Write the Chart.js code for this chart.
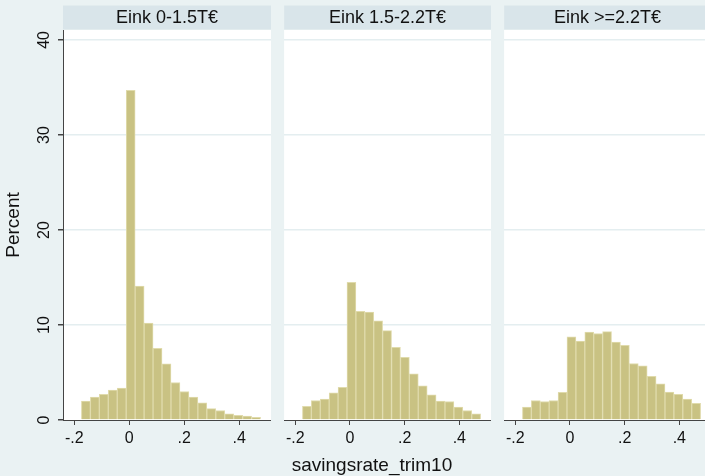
<!DOCTYPE html>
<html>
<head>
<meta charset="utf-8">
<script src="https://cdn.jsdelivr.net/npm/chart.js@4.4.1/dist/chart.umd.min.js"></script>
<style>
  html, body { margin: 0; padding: 0; background: #EAF2F3; overflow: hidden; width: 705px; height: 476px; }
  .panel { position: absolute; top: 0; height: 476px; }
  #xtitle {
    position: absolute; left: 372px; top: 454px; transform: translateX(-50%);
    font: 19px "Liberation Sans", Arial, sans-serif; color: #111; white-space: nowrap; line-height: 22px;
  }
</style>
</head>
<body>
<div class="panel" style="left:0;width:271px"><canvas id="c1" width="271" height="476"></canvas></div>
<div class="panel" style="left:282px;width:209px"><canvas id="c2" width="209" height="476"></canvas></div>
<div class="panel" style="left:502px;width:209px"><canvas id="c3" width="209" height="476"></canvas></div>
<div id="xtitle">savingsrate_trim10</div>
<script>
// Panel titles (income groups)
const panelTitles = ['Eink 0-1.5T€', 'Eink 1.5-2.2T€', 'Eink >=2.2T€'];

// Histogram bin centres (savingsrate_trim10)
const binCenters = [-0.1577, -0.1251, -0.0925, -0.0599, -0.0273, 0.0053, 0.0379, 0.0705, 0.1031, 0.1357,
                    0.1683, 0.2009, 0.2335, 0.2661, 0.2987, 0.3313, 0.3639, 0.3965, 0.4291, 0.4617];

// Percent per bin
const pctLow  = [2.0, 2.4, 2.7, 3.15, 3.35, 34.7, 14.1, 10.2, 7.55, 5.9, 3.95, 3.0, 2.4, 1.8, 1.2, 1.0, 0.65, 0.5, 0.4, 0.28];
const pctMid  = [1.45, 2.05, 2.2, 2.85, 3.45, 14.5, 11.45, 11.35, 10.45, 9.4, 7.65, 6.6, 4.85, 3.6, 2.65, 2.0, 1.95, 1.35, 1.0, 0.65];
const pctHigh = [1.35, 2.05, 1.95, 2.05, 2.9, 8.75, 8.3, 9.25, 9.1, 9.3, 8.2, 7.85, 5.95, 5.7, 4.6, 3.8, 2.95, 2.7, 2.2, 1.75];

// Axis ticks
const xTicks = [-0.2, 0, 0.2, 0.4];
const xTickLabels = ['-.2', '0', '.2', '.4'];
const yTicks = [0, 10, 20, 30, 40];

const FONT = '"Liberation Sans", Arial, sans-serif';

// Draws the white plot region and the grey-blue title strip above it
const panelDecor = {
    id: 'panelDecor',
    beforeDraw(chart, args, opts) {
        const { ctx, chartArea } = chart;
        const w = chartArea.right - chartArea.left;
        ctx.save();
        ctx.fillStyle = '#ffffff';
        ctx.fillRect(chartArea.left, chartArea.top, w, chartArea.bottom - chartArea.top);
        ctx.fillStyle = '#D9E5EA';
        ctx.fillRect(chartArea.left, 5.5, w, 24);
        ctx.fillStyle = '#111111';
        ctx.font = '18px ' + FONT;
        ctx.textAlign = 'center';
        ctx.textBaseline = 'middle';
        ctx.fillText(opts.text, chartArea.left + w / 2, 18);
        ctx.restore();
    }
};

function makePanel(id, title, values, showY) {
    const ctx = document.getElementById(id).getContext('2d');
    return new Chart(ctx, {
        type: 'bar',
        data: {
            datasets: [{
                data: binCenters.map((x, i) => ({ x: x, y: values[i] })),
                backgroundColor: 'rgb(201, 194, 131)',
                borderColor: 'rgb(224, 219, 172)',
                borderWidth: 1,
                barPercentage: 1,
                categoryPercentage: 1
            }]
        },
        options: {
            responsive: false,
            animation: false,
            layout: { padding: { top: 30, left: 0, right: 0, bottom: 0 } },
            plugins: {
                legend: { display: false },
                tooltip: { enabled: false },
                panelDecor: { text: title }
            },
            scales: {
                x: {
                    type: 'linear',
                    offset: false,
                    min: -0.241,
                    max: 0.516,
                    afterBuildTicks: scale => { scale.ticks = xTicks.map(v => ({ value: v })); },
                    afterFit: scale => { scale.height = 56; },
                    ticks: {
                        color: '#111',
                        font: { family: FONT, size: 16 },
                        padding: 4,
                        maxRotation: 0,
                        callback: (v) => xTickLabels[xTicks.indexOf(v)]
                    },
                    grid: {
                        offset: false,
                        drawOnChartArea: false,
                        drawTicks: true,
                        tickLength: 5,
                        tickColor: '#444',
                        color: '#444'
                    },
                    border: { display: true, color: '#444', width: 1 }
                },
                y: {
                    min: 0,
                    max: 41.05,
                    afterBuildTicks: scale => { scale.ticks = yTicks.map(v => ({ value: v })); },
                    afterFit: scale => { scale.width = showY ? 63 : 0; },
                    title: {
                        display: showY,
                        text: 'Percent',
                        color: '#111',
                        font: { family: FONT, size: 19 },
                        padding: { top: 2, bottom: 0 }
                    },
                    ticks: {
                        display: showY,
                        color: '#111',
                        font: { family: FONT, size: 16 },
                        minRotation: 90,
                        maxRotation: 90,
                        crossAlign: 'center',
                        padding: 5
                    },
                    grid: {
                        drawTicks: showY,
                        tickLength: 5,
                        tickColor: '#444',
                        lineWidth: 1.5,
                        color: c => (c.tick && c.tick.value === 0) ? 'rgba(0,0,0,0)' : '#E4EEF0'
                    },
                    border: { display: showY, color: '#444', width: 1 }
                }
            }
        },
        plugins: [panelDecor]
    });
}

makePanel('c1', panelTitles[0], pctLow, true);
makePanel('c2', panelTitles[1], pctMid, false);
makePanel('c3', panelTitles[2], pctHigh, false);
</script>
</body>
</html>
